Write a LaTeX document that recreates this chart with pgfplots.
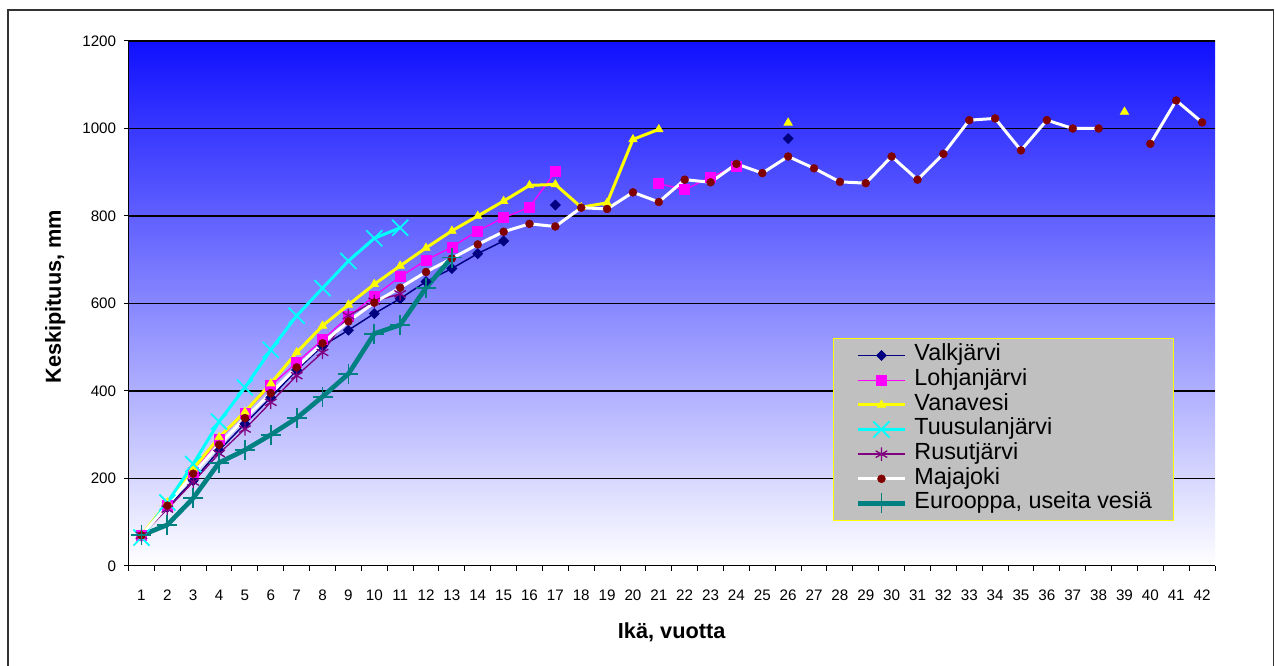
\documentclass[border=0pt]{standalone}
\usepackage{fontspec}
\setmainfont{Liberation Sans}
\usepackage{pgfplots}
\pgfplotsset{compat=1.18}

\definecolor{valk}{RGB}{0,0,128}
\definecolor{lohja}{RGB}{255,0,255}
\definecolor{vana}{RGB}{255,255,0}
\definecolor{tuus}{RGB}{0,255,255}
\definecolor{rusu}{RGB}{128,0,128}
\definecolor{maja}{RGB}{128,0,0}
\definecolor{euro}{RGB}{0,128,128}
\definecolor{topblue}{RGB}{16,16,255}
\definecolor{legfill}{RGB}{192,192,192}
\definecolor{frame}{RGB}{51,51,51}

\begin{document}
\begin{tikzpicture}
\useasboundingbox (-96.4pt,-75pt) rectangle (859.9pt,424.5pt);
\draw[line width=1.2pt, frame] (-90.4pt,-80pt) -- (-90.4pt,417pt) -- (858.75pt,417pt) -- (858.75pt,-80pt);
\begin{axis}[
  at={(0,0)}, anchor=south west,
  scale only axis,
  width=814.9pt, height=393.75pt,
  xmin=0.5, xmax=42.5,
  ymin=0, ymax=1200,
  axis x line*=bottom, axis y line*=left,
  axis line style={-, black, line width=0.8pt},
  axis background/.style={shade, top color=topblue, bottom color=white},
  xtick={1,...,42},
  minor xtick={0.5,1.5,...,42.5},
  major x tick style={draw=none},
  minor x tick style={black, line width=0.75pt},
  ytick={0,200,...,1200},
  major y tick style={black, line width=0.75pt},
  tick align=outside,
  major tick length=3.75pt,
  minor tick length=3.75pt,
  ymajorgrids,
  major grid style={black, line width=0.8pt},
  /pgf/number format/assume math mode=true,
  /pgf/number format/1000 sep={},
  tick label style={font=\fontsize{11.4}{13}\selectfont},
  xticklabel style={yshift=-10.5pt},
  yticklabel style={xshift=-2pt},
  xlabel={\textbf{Ikä, vuotta}},
  ylabel={\textbf{Keskipituus, mm}},
  label style={font=\fontsize{16.3}{18}\selectfont},
  xlabel style={at={([yshift=-49.5pt]axis description cs:0.5,0)}, anchor=center},
  ylabel style={at={([xshift=-55pt]axis description cs:0,0.513)}, anchor=center},
  unbounded coords=jump,
  legend cell align=left,
  legend image code/.code={\draw[mark repeat=2,mark phase=2,#1] plot coordinates {(0pt,0pt) (17.7pt,0pt) (35.4pt,0pt)};},
  legend style={at={(0.6484,0.4343)}, anchor=north west,
    fill=legfill, draw=vana, line width=0.8pt,
    font=\fontsize{17.5}{19}\selectfont,
    inner xsep=16.5pt, inner ysep=4.25pt,
    row sep=1.5pt, column sep=5.3pt,
    nodes={inner sep=0pt, text height=12.5pt, text depth=4.5pt}},
]
% Valkjärvi
\addplot[valk, line width=1.1pt, mark=square*, mark size=2.65pt,
  mark options={solid, rotate=45, fill=valk, draw=valk, line width=0.5pt}]
  coordinates {(1,70)(2,134)(3,195)(4,264)(5,325)(6,385)(7,448)(8,503)(9,539)
  (10,577)(11,611)(12,650)(13,680)(14,714)(15,743)(16,nan)(17,825)(18,nan)(26,977)};
\addlegendentry{Valkjärvi}
% Lohjanjärvi
\addplot[lohja, line width=1pt, mark=square*, mark size=3.75pt,
  mark options={solid, fill=lohja, draw=lohja, line width=0.5pt}]
  coordinates {(1,70)(2,138)(3,213)(4,290)(5,350)(6,412)(7,465)(8,517)(9,570)
  (10,617)(11,661)(12,699)(13,729)(14,766)(15,796)(16,820)(17,901)(18,nan)
  (21,874)(22,860)(23,889)(24,914)};
\addlegendentry{Lohjanjärvi}
% Vanavesi
\addplot[vana, line width=2.25pt, mark=triangle*, mark size=3.6pt,
  mark options={solid, fill=vana, draw=vana, line width=0.5pt}]
  coordinates {(1,70)(2,145)(3,222)(4,294)(5,352)(6,417)(7,488)(8,549)(9,597)
  (10,644)(11,686)(12,727)(13,766)(14,800)(15,834)(16,870)(17,872)(18,820)
  (19,830)(20,975)(21,998)(22,nan)(26,1013)(27,nan)(39,1038)};
\addlegendentry{Vanavesi}
% Tuusulanjärvi
\addplot[tuus, line width=2.25pt, mark=x, mark size=8.5pt,
  mark options={solid, draw=tuus, line width=1.3pt}]
  coordinates {(1,65)(2,145)(3,233)(4,330)(5,408)(6,494)(7,572)(8,635)(9,697)
  (10,749)(11,773)};
\addlegendentry{Tuusulanjärvi}
% Rusutjärvi
\addplot[rusu, line width=1pt, mark=asterisk, mark size=5pt,
  mark options={solid, draw=rusu, line width=1pt}]
  coordinates {(1,70)(2,130)(3,192)(4,257)(5,313)(6,374)(7,435)(8,488)(9,572)
  (10,605)(11,622)};
\addlegendentry{Rusutjärvi}
% Majajoki
\addplot[white, line width=2.25pt, mark=*, mark size=3pt,
  mark options={solid, fill=maja, draw=maja, line width=0.3pt}]
  coordinates {(1,70)(2,138)(3,211)(4,277)(5,338)(6,395)(7,454)(8,509)(9,559)
  (10,602)(11,636)(12,672)(13,703)(14,735)(15,764)(16,782)(17,776)(18,819)
  (19,816)(20,854)(21,832)(22,883)(23,877)(24,919)(25,898)(26,936)(27,909)
  (28,878)(29,875)(30,936)(31,883)(32,942)(33,1019)(34,1023)(35,950)(36,1019)
  (37,1000)(38,1000)(39,nan)(40,965)(41,1064)(42,1014)};
\addlegendentry{Majajoki}
% Eurooppa, useita vesiä
\addplot[euro, line width=3.5pt, mark=+, mark size=7.5pt,
  mark options={solid, draw=euro, line width=1.3pt}]
  coordinates {(1,70)(2,94)(3,155)(4,236)(5,265)(6,300)(7,338)(8,387)(9,439)
  (10,531)(11,551)(12,636)(13,705)};
\addlegendentry{Eurooppa, useita vesiä}
\end{axis}
\end{tikzpicture}
\end{document}
